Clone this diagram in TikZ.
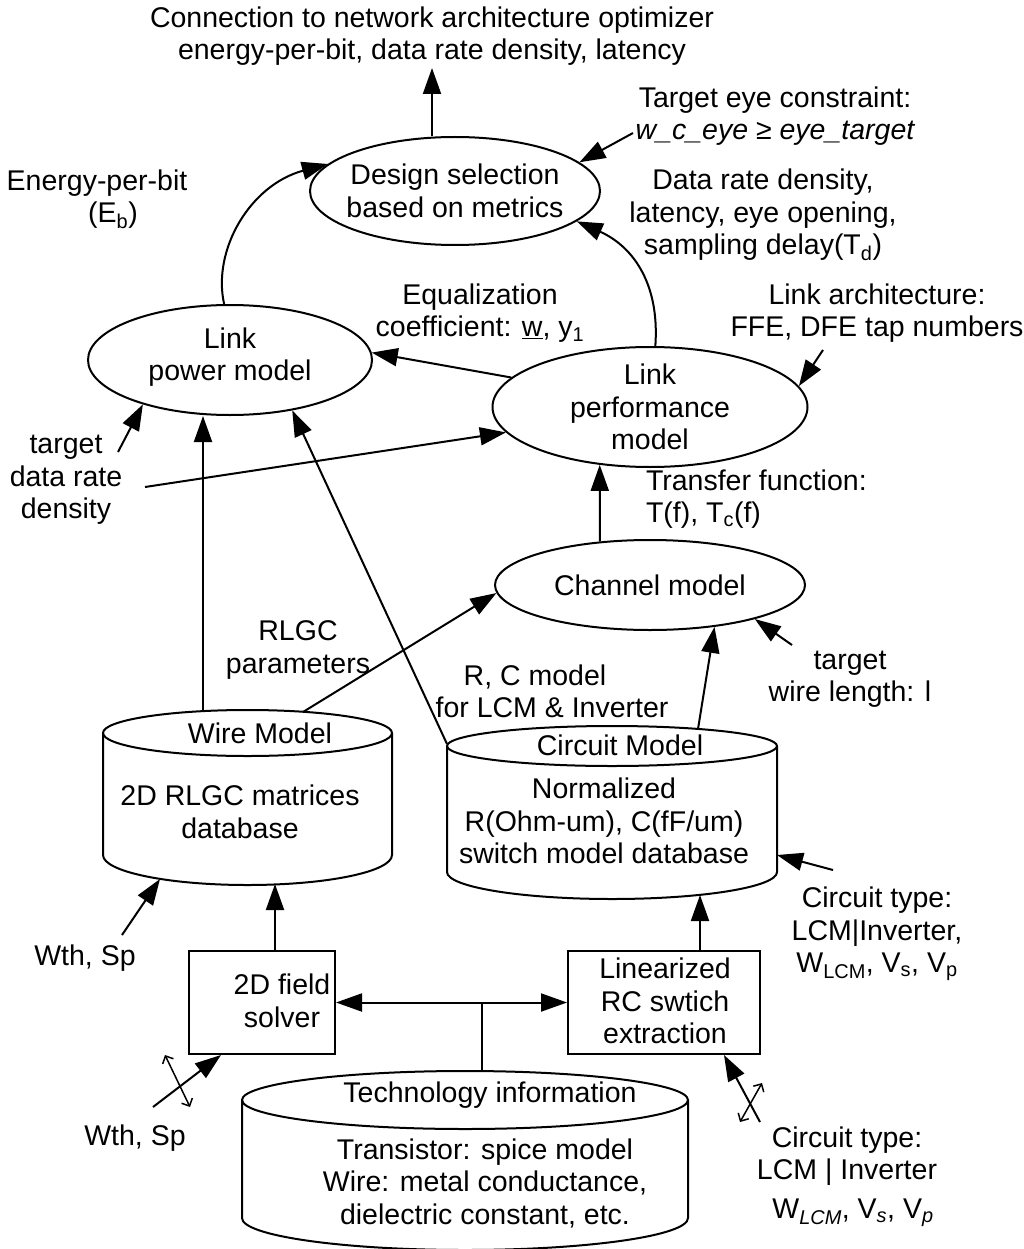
\documentclass[tikz,border=0pt]{standalone}
\usepackage{fontspec}
\setmainfont{Liberation Sans}
\usetikzlibrary{shapes.geometric,arrows.meta,calc}
\begin{document}
\begin{tikzpicture}[x=1pt,y=-1pt,line width=2pt,
  txt/.style={font=\fontsize{28.5}{32.5}\selectfont,align=center,inner sep=0pt},
  ell/.style={draw,ellipse,inner sep=0pt},
  box/.style={draw,rectangle,inner sep=0pt},
  arr/.style={-{Triangle[length=26pt,width=18pt]}},
  darr/.style={{Triangle[length=26pt,width=18pt]}-{Triangle[length=26pt,width=18pt]}},
  barb/.style={{Straight Barb[length=6pt,width=12pt]}-{Straight Barb[length=6pt,width=12pt]},line width=1.5pt}]
\useasboundingbox (0,0) rectangle (1023,1249);

% ellipses
\node[ell,minimum width=290pt,minimum height=108pt] (ds) at (455,191) {};
\node[txt] (dsT) at (455,191) {Design selection\\based on metrics};
\node[ell,minimum width=284pt,minimum height=110pt] (pm) at (230,360) {};
\node[txt] (pmT) at (230,357) {Link\\power model};
\node[ell,minimum width=315pt,minimum height=120pt] (lp) at (650,407) {};
\node[txt] (lpT) at (650,407) {Link\\performance\\model};
\node[ell,minimum width=310pt,minimum height=90pt] (ch) at (650,585) {};
\node[txt] (chT) at (650,585) {Channel model};

% labels
\node[txt] (conn) at (432,36) {Connection to network architecture optimizer\\energy-per-bit, data rate density, latency};
\node[txt] (eyeT) at (775,116) {Target eye constraint:\\{\itshape w\_c\_eye ≥ eye\_target}};
\node[txt] (drT) at (763,215) {Data rate density,\\latency, eye opening,\\sampling delay(T\textsubscript{d})};
\node[txt] (ebT) at (97,183) {Energy-per-bit};
\node[txt] (ebT2) at (113,215) {(E\textsubscript{b})};
\node[txt] (eqT) at (480,313) {Equalization\\coefficient: \underline{w}, y\textsubscript{1}};
\node[txt] (laT) at (877,313) {Link architecture:\\FFE, DFE tap numbers};
\node[txt] (tdT) at (66,480) {target\\data rate\\density};
\node[txt,align=left,anchor=west] (tfT) at (645,499) {Transfer function:\\T(f), T\textsubscript{c}(f)};
\node[txt] (rlT) at (298,650) {RLGC\\parameters};
\node[txt] (rcT1) at (535,677) {R, C model};
\node[txt] (rcT2) at (552,707) {for LCM \& Inverter};
\node[txt] (twT) at (850,679) {target\\wire length: l};
\node[txt] (ct1T) at (877,934) {Circuit type:\\LCM|Inverter,\\W\textsubscript{LCM}, V\textsubscript{s}, V\textsubscript{p}};
\node[txt] (ws1T) at (85,958) {Wth, Sp};
\node[txt] (ws2T) at (135,1138) {Wth, Sp};
\node[txt] (ct2T) at (847,1156) {Circuit type:\\LCM | Inverter};
\node[txt] (ct3T) at (853,1213) {W\textsubscript{\itshape LCM}, V\textsubscript{\itshape s}, V\textsubscript{\itshape p}};

% cylinders
\draw (247.5,733) ellipse [x radius=144.5, y radius=23];
\draw (103,733) -- (103,855) arc[start angle=180,end angle=0,x radius=144.5,y radius=30] -- (392,733);
\node[txt] (wmT) at (260,733) {Wire Model};
\node[txt] (wdT) at (240,812) {2D RLGC matrices\\database};

\draw (612,746) ellipse [x radius=165, y radius=20];
\draw (447,746) -- (447,872) arc[start angle=180,end angle=0,x radius=165,y radius=27] -- (777,746);
\node[txt] (cmT) at (620,745) {Circuit Model};
\node[txt] (cdT) at (604,821) {Normalized\\R(Ohm-um), C(fF/um)\\switch model database};

\draw (465,1100) ellipse [x radius=223, y radius=29];
\draw (242,1100) -- (242,1218) arc[start angle=180,end angle=0,x radius=223,y radius=32] -- (688,1100);
\node[txt] (tiT) at (490,1095) {Technology information};
\node[txt] (tdbT) at (485,1183) {Transistor: spice model\\Wire: metal conductance,\\dielectric constant, etc.};

% boxes
\node[box,minimum width=146pt,minimum height=103pt] (fs) at (262,1002.5) {};
\node[txt] (fsT) at (282,1001) {2D field\\solver};
\node[box,minimum width=192pt,minimum height=103pt] (lin) at (664,1002.5) {};
\node[txt] (linT) at (665,1001) {Linearized\\RC swtich\\extraction};

% coordinates
\coordinate (topEnd) at (432,68);
\coordinate (eyeS) at (633,133);
\coordinate (laS) at (823,350);
\coordinate (tgS) at (118,452);
\coordinate (drS) at (145,487);
\coordinate (twS) at (792,645);
\coordinate (ctS) at (833,870);
\coordinate (ws1S) at (122,935);
\coordinate (ws2S) at (153,1107);
\coordinate (ct2S) at (760,1122);
\coordinate (wTopA) at (203,711);
\coordinate (wTopB) at (303,712);
\coordinate (wBot1) at (160,879);
\coordinate (wBot2) at (275,884);
\coordinate (cTopL) at (447,744);
\coordinate (cTopR) at (698,729);
\coordinate (cRight) at (777,855);
\coordinate (cBot) at (700,895);
\coordinate (tTop) at (482,1071);
\coordinate (fsTip) at ($(fs.south west)+(33,0)$);
\coordinate (linTip) at ($(lin.south west)+(157,0)$);
\coordinate (x1a) at (165,1055);
\coordinate (x1b) at (190,1107);
\coordinate (x2a) at (762,1083);
\coordinate (x2b) at (740,1122);

% connectors
\draw[arr] (ds.north -| topEnd) -- (topEnd);
\draw[arr] (eyeS) -- (ds.13);
\draw[arr] (lp.85) .. controls (660,280) and (630,245) .. (ds.-14);
\draw[arr] (pm.96) .. controls (212,250) and (250,185) .. (ds.168);
\draw[arr] (lp.168) -- (pm.3);
\draw[arr] (laS) -- (lp.8);
\draw[arr] (tgS) -- (pm.207);
\draw[arr] (drS) -- (lp.190);
\draw[arr] (wTopA) -- (pm.south -| wTopA);
\draw[arr] (cTopL) -- (pm.-39);
\draw[arr] (ch.139) -- (lp.229);
\draw[arr] (wTopB) -- (ch.183);
\draw[arr] (cTopR) -- (ch.-33);
\draw[arr] (twS) -- (ch.-18);
\draw[arr] (ctS) -- (cRight);
\draw[arr] (ws1S) -- (wBot1);
\draw[arr] (fs.north -| wBot2) -- (wBot2);
\draw[arr] (lin.north -| cBot) -- (cBot);
\draw[darr] (fs.east) -- (lin.west);
\draw (fs.east -| tTop) -- (tTop);
\draw[arr] (ws2S) -- (fsTip);
\draw[barb] (x1a) -- (x1b);
\draw[arr] (ct2S) -- (linTip);
\draw[barb] (x2a) -- (x2b);
\end{tikzpicture}
\end{document}
